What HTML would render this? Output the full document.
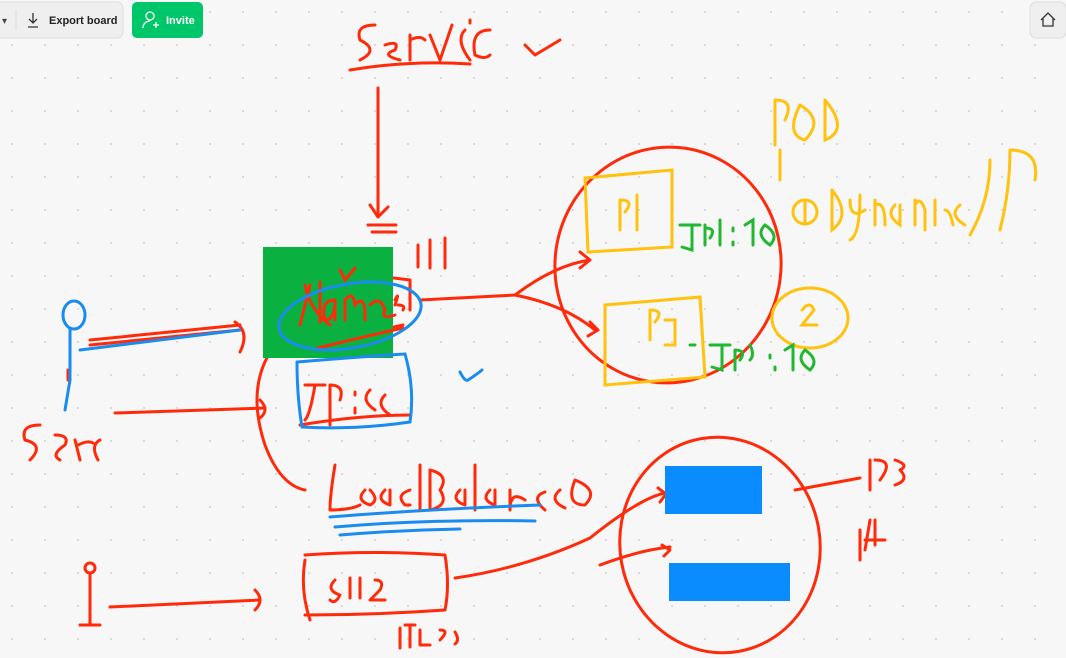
<!DOCTYPE html>
<html><head><meta charset="utf-8"><style>
html,body{margin:0;padding:0;width:1066px;height:658px;overflow:hidden;background:#f7f7f7;font-family:"Liberation Sans",sans-serif}
.bar{position:absolute;top:2px;height:36px;border-radius:6px}
</style></head><body>
<svg width="1066" height="658" style="position:absolute;left:0;top:0">
<defs><pattern id="d" width="33" height="33" patternUnits="userSpaceOnUse" x="10" y="10"><circle cx="2" cy="2" r="1.1" fill="#d8d8d8"/></pattern></defs>
<rect width="1066" height="658" fill="url(#d)"/>
<!-- toolbar -->
<rect x="-10" y="2" width="133" height="36" rx="6" fill="#efefef" stroke="#ddd"/>
<line x1="16" y1="10" x2="16" y2="30" stroke="#ddd"/>
<text x="2" y="24" font-size="10" fill="#444">▾</text>
<path d="M33 13v10M29 19l4 4 4-4M28 27h10" stroke="#333" stroke-width="1.3" fill="none"/>
<text x="49" y="24" font-size="11" font-weight="bold" fill="#222">Export board</text>
<rect x="132" y="2" width="71" height="36" rx="5" fill="#00c66a"/>
<circle cx="150" cy="16" r="4" fill="none" stroke="#fff" stroke-width="1.3"/>
<path d="M143 28c0-5 4-7 7-7M153 25h6M156 22v6" stroke="#fff" stroke-width="1.3" fill="none"/>
<text x="166" y="24" font-size="11" font-weight="bold" fill="#fff">Invite</text>
<rect x="1030" y="2" width="36" height="36" rx="6" fill="#efefef" stroke="#ddd"/>
<path d="M1041 20l7-7 7 7M1043 18v8h10v-8" stroke="#333" stroke-width="1.3" fill="none"/>

<g fill="none" stroke="#ff2a0a" stroke-width="3" stroke-linecap="round" stroke-linejoin="round">
<!-- Service -->
<path d="M350 70q60-10 120-6"/>
<path d="M525 45l10 10 25-15"/>
<path d="M378 88v125M370 205l8 12 10-10M368 225h28M372 232h24"/>
<path d="M418 245v22M430 240v28M445 238v30"/>
<!-- right lines -->
<path d="M420 300l95-5M515 295q40-30 75-35M580 252l10 8-10 8M515 295q50 10 80 35M590 322l8 8-10 6"/>
<ellipse cx="668" cy="265" rx="113" ry="118" transform="rotate(8 668 265)"/>
<!-- Name -->
<path d="M300 310l10-30M310 290l-5 40M315 300q10 20 20 25M340 300q-5 30 15 10M360 300v25M360 310q5-15 10 0v15M370 310q5-15 10 0v10M395 305q5-15 0-5"/>
<path d="M318 345q40-10 85-20M280 285q60-15 130-5v30"/>
<!-- person arrows -->
<path d="M90 345l150-15M90 340l150-15M235 322q15 10 5 30"/>
<path d="M115 413l150-5M260 400q10 10 0 18"/>
<path d="M275 345q-30 40-10 100q15 40 40 45"/>
<!-- Serce -->
<path d="M40 425q-20 0-15 15q20 5 5 20M55 435q15 0 10 10q-15 10 -5 15M75 440l5 20M78 445q10-5 15-2M100 440q-10 5-2 20"/>
<path d="M68 370v10M70 330v50"/>
<!-- IP:80 -->
<path d="M305 385h20M315 385q-5 30-10 35M330 385v40M330 385q15 0 10 15M355 392v3M355 408v5M370 390q-10 10 5 20M385 395q-10 10 5 20M300 425q60-10 110-10"/>
<!-- LoadBalancer -->
<path d="M335 465q-5 30 -5 45q20 0 30-5M365 490q-10 10 5 15q10-5 0-15M385 490q-10 10 5 15v-15M410 490q-15 5-5 15h5M420 465v45M430 470v40q20-5 10-20q10-15-10-20M460 490q-10 10 5 15v-15M475 465v45M490 490q-10 10 5 15v-15M510 490v20q0-20 15-10M545 492q-15 5 0 18M560 490q-12 10 5 18M575 480q-10 25 10 25q15-15-10-25"/>
<!-- bottom -->
<ellipse cx="720" cy="545" rx="100" ry="108" transform="rotate(-10 720 545)"/>
<path d="M455 578q70-10 135-40q50-40 75-45M658 488l8 6-6 8M600 565q40-15 70-18M662 545l8 5-6 6"/>
<path d="M795 490l65-12M870 460v30M875 460q20 0 5 20M895 460q15 5 5 10q10 10-5 15"/>
<path d="M860 530v30M870 520l-5 30M875 520v25M865 540h20"/>
<path d="M305 560q-5 30 5 60M305 555q70-5 140 0q5 30 0 55q-70 5-140 5"/>
<path d="M335 580q-10 10 5 15q-5 10-10 5M350 578v20M360 578v20M375 580q10 0 5 10l-10 10h15"/>
<path d="M400 628v20M405 625h10M410 625v22M420 630v15h10M440 630q10 0 0 10M455 632q5 8 0 12"/>
<circle cx="90" cy="568" r="5"/>
<path d="M90 573v50M80 625h20M110 607l150-7M255 590q10 10 0 20"/>
</g>
<!-- green box -->
<rect x="263" y="247" width="130" height="111" fill="#0bb140"/>
<g fill="none" stroke="#ff2a0a" stroke-width="3" stroke-linecap="round">
<path d="M300 325l10-40M305 285q5 25 25 40M320 282v40M335 300q-15 0-10 20q10 0 10-20v20M345 320v-20q8-10 10 5q8-10 10 5v10M370 305q10-10 15 5q-5 10 10 5M398 305q8 0 5 5"/>
<path d="M318 348q40-10 85-20M340 270l5 10 10-12"/>
</g>
<g fill="none" stroke="#1a8cf0" stroke-width="3" stroke-linecap="round">
<ellipse cx="350" cy="316" rx="72" ry="32" transform="rotate(-10 350 316)"/>
<path d="M297 362q60-5 108-8q10 35 5 68q-55 8-108 5q-5-30-5-65"/>
<path d="M80 350l160-20"/><ellipse cx="74" cy="315" rx="11" ry="14"/>
<path d="M70 330v50l-5 30M460 372q5 10 8 8 8-5 14-10"/>
<path d="M330 517q100-8 210-12M335 527q90-8 200-6M340 535q60-5 120-6"/>
</g>
<rect x="665" y="466" width="97" height="48" fill="#0a8cff"/>
<rect x="669" y="563" width="121" height="38" fill="#0a8cff"/>
<g fill="none" stroke="#ffc20e" stroke-width="3" stroke-linecap="round">
<path d="M585 178l87-8v77l-84 5zM605 305l95-8 5 80-100 8z"/>
<path d="M620 200v30M620 200q15 0 5 12M637 195v35M650 310v30M650 310q15 0 5 12M665 320h10v25h-10"/>
<path d="M775 100v45M775 100q20 0 10 20M800 105q-15 30 5 35q20-20-5-35M825 100v40q25-10 0-40"/>
<path d="M780 150v30"/>
<circle cx="805" cy="212" r="12"/><path d="M805 202v20"/>
<path d="M832 190v40q20-15 0-40M850 200q0 20 15 10M860 195q0 40-10 45M875 200v25M875 205q10-5 10 20M895 205q-10 10 5 20v-20M915 200v25M915 205q5-10 10 5v20M935 200v25M945 210q5 0 8 15M960 205q-12 10 5 20"/>
<path d="M990 160q0 40-20 75M1010 150q0 40-10 80M1010 150q30 0 25 30"/>
<ellipse cx="810" cy="318" rx="38" ry="30"/><path d="M802 310q8-10 12 0l-12 15h15"/>
</g>
<g fill="none" stroke="#1fb830" stroke-width="3" stroke-linecap="round">
<path d="M680 225h20M692 225v25l-10-3M705 225v20M705 228q12 0 5 10M720 220v25M733 228v3M733 242v3M745 225l8-5v25M765 225q-10 10 5 20q10-10-5-20"/>
<path d="M690 345h5M710 345h20M722 345v25l-10-3M735 350v20M735 350q12 0 5 10M750 345q5 10 0 15M770 355v3M775 367v3M785 350l8-5v25M805 350q-10 10 5 20q10-10-5-20"/>
</g>
<g fill="none" stroke="#ff2a0a" stroke-width="3" stroke-linecap="round">
<path d="M375 25q-20 0-15 15q20 10 0 20M385 45q15-5 10 5q-15 5 5 10M410 35v25M410 40q10-5 15 0M430 35l10 25 12-35M465 30q-10 10 5 30M470 20v3M490 30q-20 0-15 25q10 5 15 0"/>
</g>
</svg>
</body></html>
